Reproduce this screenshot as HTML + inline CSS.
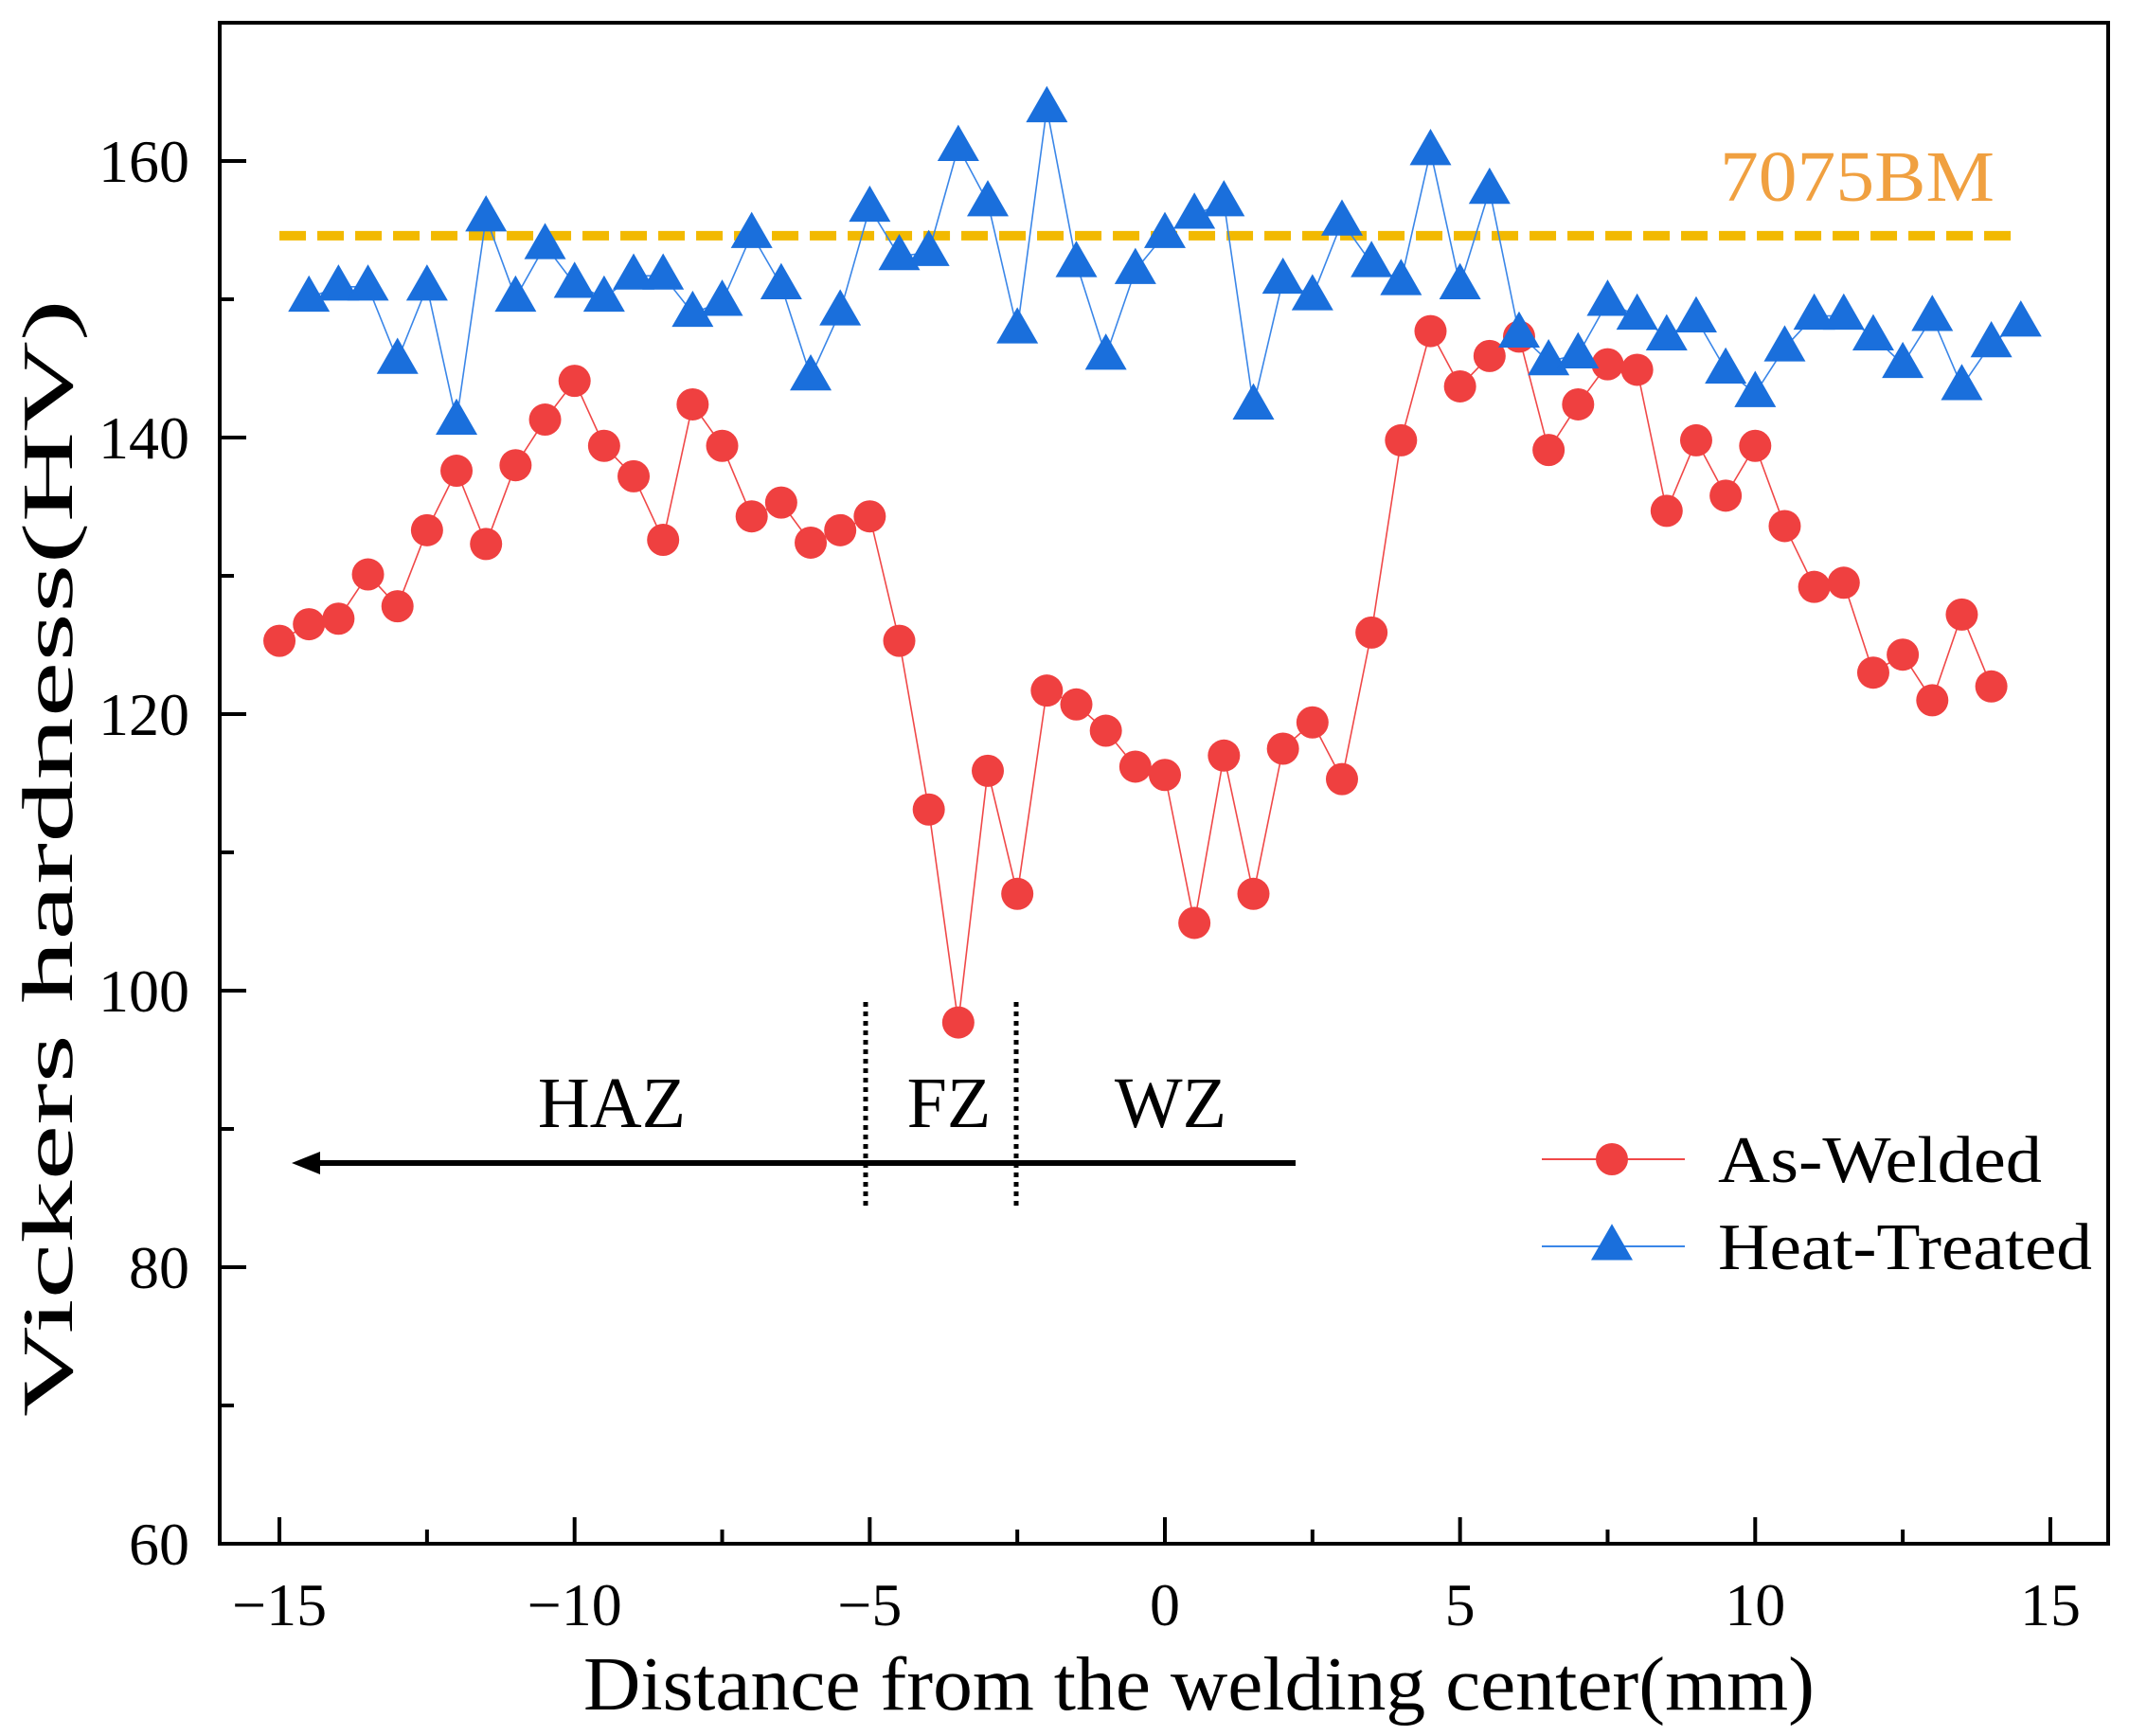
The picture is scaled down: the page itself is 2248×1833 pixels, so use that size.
<!DOCTYPE html>
<html><head><meta charset="utf-8"><style>
html,body{margin:0;padding:0;background:#fff;}
svg{display:block;font-family:"Liberation Serif",serif;}
</style></head><body>
<svg id="chart" width="2248" height="1833" viewBox="0 0 2248 1833" xmlns="http://www.w3.org/2000/svg"></svg>
<script>
const xTicks=[-15,-10,-5,0,5,10,15];
const xMinor=[-12.5,-7.5,-2.5,2.5,7.5,12.5];
const yTicks=[60,80,100,120,140,160];
const yMinor=[70,90,110,130,150];
const asWeldedX=[-15,-14.5,-14,-13.5,-13,-12.5,-12,-11.5,-11,-10.5,-10,-9.5,-9,-8.5,-8,-7.5,-7,-6.5,-6,-5.5,-5,-4.5,-4,-3.5,-3,-2.5,-2,-1.5,-1,-0.5,0,0.5,1,1.5,2,2.5,3,3.5,4,4.5,5,5.5,6,6.5,7,7.5,8,8.5,9,9.5,10,10.5,11,11.5,12,12.5,13,13.5,14];
const asWeldedY=[125.3,126.5,126.9,130.1,127.8,133.3,137.6,132.3,138,141.3,144.1,139.4,137.2,132.6,142.4,139.4,134.3,135.3,132.4,133.3,134.3,125.3,113.1,97.7,115.9,107,121.7,120.7,118.8,116.2,115.6,104.9,117,107,117.5,119.4,115.3,125.9,139.8,147.7,143.7,145.9,147.3,139.1,142.4,145.3,144.9,134.7,139.8,135.8,139.4,133.6,129.2,129.5,123,124.3,121,127.2,122];
const heatX=[-14.5,-14,-13.5,-13,-12.5,-12,-11.5,-11,-10.5,-10,-9.5,-9,-8.5,-8,-7.5,-7,-6.5,-6,-5.5,-5,-4.5,-4,-3.5,-3,-2.5,-2,-1.5,-1,-0.5,0,0.5,1,1.5,2,2.5,3,3.5,4,4.5,5,5.5,6,6.5,7,7.5,8,8.5,9,9.5,10,10.5,11,11.5,12,12.5,13,13.5,14,14.5];
const heatY=[150.1,150.9,150.9,145.6,150.9,141.2,155.9,150.1,153.9,151.1,150.1,151.7,151.7,149,149.8,154.7,151,144.4,149.1,156.6,153.1,153.4,161,157,147.8,163.8,152.6,145.9,152.1,154.7,156.1,157,142.3,151.4,150.2,155.6,152.6,151.3,160.7,151,157.9,147.5,145.5,146,149.8,148.8,147.3,148.6,144.9,143.2,146.5,148.8,148.8,147.3,145.3,148.7,143.7,146.8,148.3];
const bmValue=[154.6];
const bmRange=[-15,14.5];

const NS="http://www.w3.org/2000/svg";
const svg=document.getElementById('chart');
const L=232,R=2226,T=24,B=1630;
const X=v=>1230+v*62.33;
const Y=v=>1630-(v-60)*14.6;
function mk(tag,attrs,parent){const e=document.createElementNS(NS,tag);for(const k in attrs)e.setAttribute(k,attrs[k]);(parent||svg).appendChild(e);return e;}

xTicks.forEach(v=>{const t=mk('line',{x1:X(v),x2:X(v),y1:B,y2:B-28,stroke:'#000','stroke-width':4});


const l=mk('text',{x:X(v),y:1716,'font-size':64,'text-anchor':'middle'});l.textContent=(v<0?'\u2212':'')+Math.abs(v);

});
xMinor.forEach(v=>{const t=mk('line',{x1:X(v),x2:X(v),y1:B,y2:B-15,stroke:'#000','stroke-width':4});

});
yTicks.forEach(v=>{const t=mk('line',{x1:L,x2:L+28,y1:Y(v),y2:Y(v),stroke:'#000','stroke-width':4});


const l=mk('text',{x:200,y:Y(v)+22,'font-size':64,'text-anchor':'end'});l.textContent=v;

});
yMinor.forEach(v=>{const t=mk('line',{x1:L,x2:L+15,y1:Y(v),y2:Y(v),stroke:'#000','stroke-width':4});

});

const fr=mk('rect',{x:L,y:T,width:R-L,height:B-T,fill:'none',stroke:'#000','stroke-width':4});



const bm=mk('line',{x1:X(bmRange[0]),x2:X(bmRange[1]),y1:Y(bmValue[0]),y2:Y(bmValue[0]),stroke:'#f2b900','stroke-width':10,'stroke-dasharray':'28,12'});


const bmt=mk('text',{x:1816,y:212,'font-size':76,fill:'#f0a040',textLength:290,lengthAdjust:'spacingAndGlyphs'});bmt.textContent='7075BM';



const ar=mk('line',{x1:1368,x2:330,y1:1228,y2:1228,stroke:'#000','stroke-width':6});


const ah=mk('polygon',{points:'308,1228 338,1216 338,1240',fill:'#000'});


[914,1073].forEach(x=>{const d=mk('line',{x1:x,x2:x,y1:1058,y2:1278,stroke:'#000','stroke-width':5,'stroke-dasharray':'5,5'});

});
[['HAZ',646],['FZ',1002],['WZ',1236]].forEach(([s,x])=>{const t=mk('text',{x:x,y:1190,'font-size':76,'text-anchor':'middle'});t.textContent=s;

});

function tri(cx,cy,g,s){const h=s*0.87;const p=mk('polygon',{points:`${cx},${cy-h*0.62} ${cx-s/2},${cy+h*0.38} ${cx+s/2},${cy+h*0.38}`,fill:'#1a6fdc'},g);return p;}
const gR=mk('g',{});
mk('polyline',{points:asWeldedX.map((x,i)=>X(x)+','+Y(asWeldedY[i])).join(' '),fill:'none',stroke:'#f04848','stroke-width':1.6},gR);
asWeldedX.forEach((x,i)=>{const c=mk('circle',{cx:X(x),cy:Y(asWeldedY[i]),r:17,fill:'#ef4040'},gR);

});
const gB=mk('g',{});
mk('polyline',{points:heatX.map((x,i)=>X(x)+','+Y(heatY[i])).join(' '),fill:'none',stroke:'#3a86e8','stroke-width':1.6},gB);
heatX.forEach((x,i)=>{const p=tri(X(x),Y(heatY[i]),gB,44);

});

const lg=mk('g',{});
mk('line',{x1:1628,x2:1779,y1:1224,y2:1224,stroke:'#f04848','stroke-width':2},lg);
const lc=mk('circle',{cx:1702,cy:1224,r:17,fill:'#ef4040'},lg);


const l1=mk('text',{x:1814,y:1248,'font-size':70,textLength:342,lengthAdjust:'spacingAndGlyphs'},lg);l1.textContent='As-Welded';


mk('line',{x1:1628,x2:1779,y1:1316,y2:1316,stroke:'#3a86e8','stroke-width':2},lg);
const lt=tri(1702,1316,lg,44);


const l2=mk('text',{x:1814,y:1340,'font-size':70,textLength:395,lengthAdjust:'spacingAndGlyphs'},lg);l2.textContent='Heat-Treated';



const xt=mk('text',{x:1266,y:1805,'font-size':80,'text-anchor':'middle',textLength:1300,lengthAdjust:'spacingAndGlyphs'});xt.textContent='Distance from the welding center(mm)';


const yt=mk('text',{x:0,y:0,'font-size':76,'text-anchor':'middle',textLength:1180,lengthAdjust:'spacingAndGlyphs',transform:'translate(76,906) rotate(-90)'});yt.textContent='Vickers hardness(HV)';


</script>
</body></html>
